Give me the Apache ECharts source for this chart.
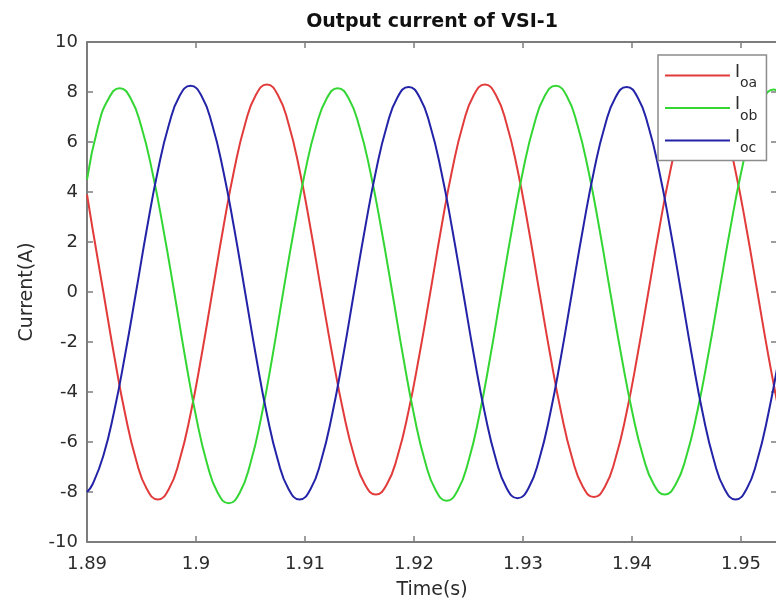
<!DOCTYPE html>
<html><head><meta charset="utf-8">
<script src="https://cdn.jsdelivr.net/npm/echarts@6/dist/echarts.min.js"></script>
<style>html,body{margin:0;padding:0;background:#fff}#c{width:776px;height:607px}</style>
</head><body><div id="c"></div>
<script>
// sample times (s) for Iob
const timeB = [1.890,1.891,1.892,1.893,1.894,1.895,1.896,1.897,1.898,1.899,
  1.900,1.901,1.902,1.903,1.904,1.905,1.906,1.907,1.908,1.909,
  1.910,1.911,1.912,1.913,1.914,1.915,1.916,1.917,1.918,1.919,
  1.920,1.921,1.922,1.923,1.924,1.925,1.926,1.927,1.928,1.929,
  1.930,1.931,1.932,1.933,1.934,1.935,1.936,1.937,1.938,1.939,
  1.940,1.941,1.942,1.943,1.944,1.945,1.946,1.947,1.948,1.949,
  1.950,1.951,1.952,1.953,1.954];
// sample times (s) for Ioa and Ioc
const timeAC = [1.8900,1.8905,1.8915,1.8925,1.8935,1.8945,1.8955,1.8965,1.8975,1.8985,1.8995,
  1.9005,1.9015,1.9025,1.9035,1.9045,1.9055,1.9065,1.9075,1.9085,1.9095,
  1.9105,1.9115,1.9125,1.9135,1.9145,1.9155,1.9165,1.9175,1.9185,1.9195,
  1.9205,1.9215,1.9225,1.9235,1.9245,1.9255,1.9265,1.9275,1.9285,1.9295,
  1.9305,1.9315,1.9325,1.9335,1.9345,1.9355,1.9365,1.9375,1.9385,1.9395,
  1.9405,1.9415,1.9425,1.9435,1.9445,1.9455,1.9465,1.9475,1.9485,1.9495,
  1.9505,1.9515,1.9525,1.9535];
// phase currents (A)
const ioa = [3.9,
  2.56,0,-2.56,-4.88,-6.71,-7.89,-8.30,-7.89,-6.71,-4.88,-2.56,0,
  2.56,4.88,6.71,7.89,8.30,7.89,6.71,4.88,2.56,0,
  -2.50,-4.76,-6.55,-7.70,-8.10,-7.70,-6.55,-4.76,-2.50,0,
  2.56,4.88,6.71,7.89,8.30,7.89,6.71,4.88,2.56,0,
  -2.53,-4.82,-6.63,-7.80,-8.20,-7.80,-6.63,-4.82,-2.53,0,
  2.53,4.82,6.63,7.80,8.20,7.80,6.63,4.82,2.53,0,
  -2.53,-4.82];
const iob = [4.5,6.59,7.75,8.15,7.75,6.59,4.79,2.52,0,
  -2.61,-4.97,-6.84,-8.04,-8.45,-8.04,-6.84,-4.97,-2.61,0,
  2.52,4.79,6.59,7.75,8.15,7.75,6.59,4.79,2.52,0,
  -2.58,-4.91,-6.76,-7.94,-8.35,-7.94,-6.76,-4.91,-2.58,0,
  2.55,4.85,6.67,7.85,8.25,7.85,6.67,4.85,2.55,0,
  -2.50,-4.76,-6.55,-7.70,-8.10,-7.70,-6.55,-4.76,-2.50,0,
  2.50,4.76,6.55,7.70,8.10,7.70];
const ioc = [-8.0,
  -7.70,-6.55,-4.76,-2.50,0,
  2.55,4.85,6.67,7.85,8.25,7.85,6.67,4.85,2.55,0,
  -2.56,-4.88,-6.71,-7.89,-8.30,-7.89,-6.71,-4.88,-2.56,0,
  2.53,4.82,6.63,7.80,8.20,7.80,6.63,4.82,2.53,0,
  -2.55,-4.85,-6.67,-7.85,-8.25,-7.85,-6.67,-4.85,-2.55,0,
  2.53,4.82,6.63,7.80,8.20,7.80,6.63,4.82,2.53,0,
  -2.56,-4.88,-6.71,-7.89,-8.30,-7.89,-6.71,-4.88,-2.56];
const seriesNames = ['Ioa','Iob','Ioc'];
const seriesColors = ['#e23b3b','#33d633','#2323a8'];

const font = 'DejaVu Sans';
const axisColor = '#7d7d7d';
const textColor = '#2b2b2b';
function pairs(ts, v){ return ts.map((t,i)=>[t,v[i]]); }

const xCommon = {type:'value', min:1.89, max:1.9533, interval:0.01,
  splitLine:{show:false},
  axisLine:{show:true,onZero:false,lineStyle:{color:axisColor,width:2}},
  axisTick:{show:true,inside:true,length:6,lineStyle:{color:axisColor,width:1.5}}};
const yCommon = {type:'value', min:-10, max:10, interval:2,
  splitLine:{show:false},
  axisLine:{show:true,onZero:false,lineStyle:{color:axisColor,width:2}},
  axisTick:{show:true,inside:true,length:6,lineStyle:{color:axisColor,width:1.5}}};

const chart = echarts.init(document.getElementById('c'), null, {renderer:'canvas'});
chart.setOption({
  animation:false,
  backgroundColor:'#fff',
  title:{text:'Output current of VSI-1', left:427, top:8, textAlign:'center',
    textStyle:{fontFamily:font,fontSize:19,fontWeight:'bold',color:'#111'}},
  grid:{left:87,right:-1,top:42,bottom:65,containLabel:false,outerBoundsMode:'none'},
  legend:{orient:'vertical',left:658,top:55,padding:[9,9,5,7],itemGap:6,
    itemWidth:65,itemHeight:2,icon:'rect',backgroundColor:'#fff',borderColor:'#8c8c8c',borderWidth:1.5,
    borderRadius:0,data:seriesNames,
    formatter:function(n){return '{i|I}{s|'+n.slice(1)+'}';},
    textStyle:{fontFamily:font,color:textColor,rich:{
      i:{fontFamily:font,fontSize:17,color:textColor,padding:[0,0,6,0]},
      s:{fontFamily:font,fontSize:14,color:textColor,padding:[16,0,0,0]}}}},
  xAxis:[
    Object.assign({}, xCommon, {position:'bottom', name:'Time(s)', nameLocation:'middle', nameGap:39,
      nameTextStyle:{fontFamily:font,fontSize:19,color:textColor},
      axisLabel:{fontFamily:font,fontSize:18,color:textColor,margin:13,showMaxLabel:false}}),
    Object.assign({}, xCommon, {position:'top', axisLabel:{show:false}})
  ],
  yAxis:[
    Object.assign({}, yCommon, {position:'left', name:'Current(A)', nameLocation:'middle', nameGap:50,
      nameTextStyle:{fontFamily:font,fontSize:19,color:textColor},
      axisLabel:{fontFamily:font,fontSize:18,color:textColor,margin:9}}),
    Object.assign({}, yCommon, {position:'right', axisLabel:{show:false}})
  ],
  series:[[timeAC,ioa],[timeB,iob],[timeAC,ioc]].map((d,i)=>({
    name:seriesNames[i], type:'line', data:pairs(d[0],d[1]), xAxisIndex:0, yAxisIndex:0,
    smooth:true, symbol:'none', clip:true,
    lineStyle:{color:seriesColors[i],width:2}, itemStyle:{color:seriesColors[i]}
  }))
});
</script></body></html>
